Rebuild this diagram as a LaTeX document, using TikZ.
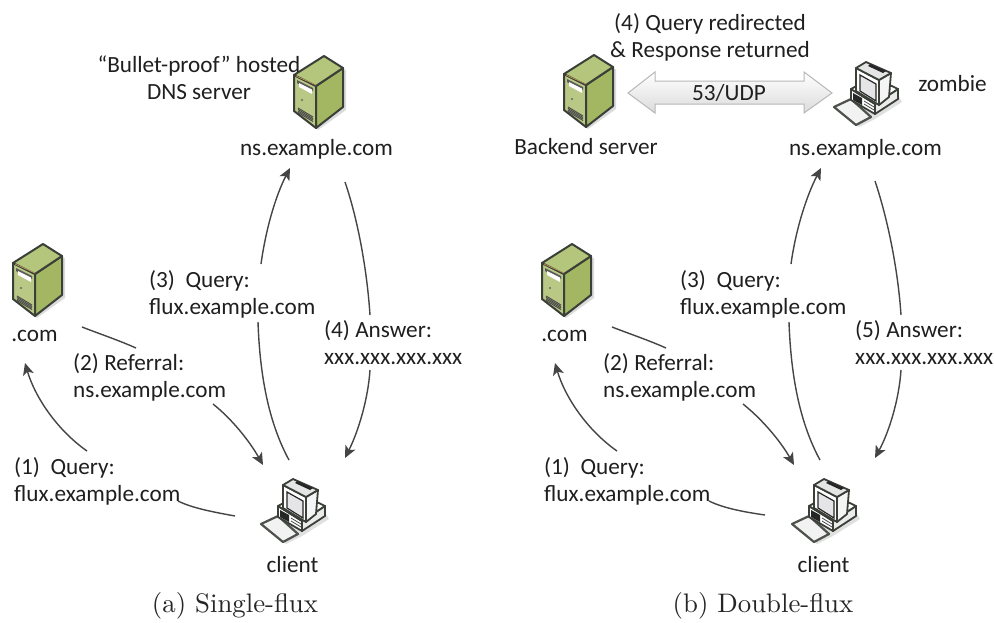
\documentclass[tikz,border=0pt]{standalone}
\usepackage{fontspec}
\usetikzlibrary{arrows.meta}
\setsansfont{Carlito}
\newfontfamily\capfont{lmroman10-regular}[Extension=.otf]
\definecolor{wire}{gray}{0.27}
\definecolor{srvfront}{HTML}{B9C884}
\definecolor{srvside}{HTML}{A3B763}
\definecolor{srvtop}{HTML}{B4C67C}
\definecolor{srvedge}{HTML}{3A3F38}
\tikzset{
  lbl/.style={font=\sffamily\fontsize{23.2}{27}\selectfont,text=black!88,inner sep=0pt,align=left,yshift=-1pt},
  lblc/.style={lbl,align=center},
  capt/.style={font=\capfont\fontsize{26.8}{30}\selectfont,text=black!85,inner sep=0pt},
  wireline/.style={draw=wire,line width=1.4pt},
  wirearrow/.style={wireline,-{Stealth[length=12pt,width=11pt,inset=3pt]}},
  serverpic/.pic={
    \fill[black!14] (3,22) -- (3,57) -- (25,74) -- (53,54) -- (53,14) -- cycle;
    \filldraw[draw=srvedge,line width=2pt,line join=round,fill=srvfront] (1,19) -- (23,30) -- (23,72) -- (1,55) -- cycle;
    \filldraw[draw=srvedge,line width=2pt,line join=round,fill=srvside] (23,30) -- (50,12) -- (50,51) -- (23,72) -- cycle;
    \filldraw[draw=srvedge,line width=2pt,line join=round,fill=srvtop] (1,19) -- (31,0) -- (50,12) -- (23,30) -- cycle;
    \draw[draw=brown!60!srvfront,line width=.7pt] (3,20) -- (23,29);
    \fill[black!65] (4,24) -- (20,32) -- (20,35) -- (4,27) -- cycle;
    \fill[white] (6,27) -- (19,33.5) -- (19,38) -- (6,31) -- cycle;
    \fill[black!60] (9,44) circle (1.2);
    \foreach \d in {0,2.5,5,7.5} {\draw[black!70,line width=1pt] (5,52+\d*.6) -- (20,61+\d*.6);}
  },
  computerpic/.pic={
    \fill[black!12] (4,48) -- (26,65) -- (42,57) -- (69,40) -- (60,24) -- cycle;
    % keyboard
    \filldraw[draw=srvedge!90,line width=2.2pt,line join=round,fill=black!5] (1,45) -- (18,37) -- (38,55) -- (23,63) -- cycle;
    % base
    \filldraw[draw=srvedge,line width=1.8pt,line join=round,fill=white] (18,27) -- (42,42) -- (42,52) -- (18,38) -- cycle;
    \filldraw[draw=srvedge,line width=1.8pt,line join=round,fill=black!8] (42,42) -- (65,27) -- (65,37) -- (42,52) -- cycle;
    \filldraw[draw=srvedge,line width=1.8pt,line join=round,fill=white] (18,27) -- (40,15) -- (65,27) -- (42,42) -- cycle;
    \fill[black!85] (20,31) -- (29,36) -- (29,43) -- (20,38) -- cycle;
    \draw[black!70,line width=.8pt] (31,39) -- (41,45) (31,42) -- (41,48);
    % monitor
    \filldraw[draw=srvedge,line width=1.8pt,line join=round,fill=white] (23,6) -- (46,18) -- (46,43) -- (23,29) -- cycle;
    \filldraw[draw=srvedge,line width=1.8pt,line join=round,fill=black!4] (46,18) -- (58,11) -- (56,35) -- (46,43) -- cycle;
    \filldraw[draw=srvedge,line width=1.8pt,line join=round,fill=black!10] (23,6) -- (33,0) -- (58,11) -- (46,18) -- cycle;
    \fill[black!85] (37,2) -- (53,9) -- (50,11) -- (35,4) -- cycle;
    \filldraw[draw=black!85,line width=1.2pt,fill=blue!6!black!10] (27,13) -- (43,22) -- (43,39) -- (27,29) -- cycle;
  }
}
\begin{document}
\begin{tikzpicture}[x=1pt,y=-1pt]
\useasboundingbox (0,0) rectangle (994,622);
\fill[white] (0,0) rectangle (994,622);
% ===== icons
\pic at (12,244) {serverpic};
\pic at (293,56) {serverpic};
\pic at (260,479) {computerpic};
\pic at (541,244) {serverpic};
\pic at (563,55) {serverpic};
\pic at (791,479) {computerpic};
\pic at (833,62) {computerpic};
% ===== labels (a)
\node[lblc] (bp) at (199,77) {“Bullet-proof” hosted\\DNS server};
\node[lbl] (nsA) at (316.5,148) {ns.example.com};
\node[lbl] (comA) at (34.5,335) {.com};
\node[lbl] (clA) at (292.5,564) {client};
\node[lbl,anchor=west] (q1A) at (14,480) {(1)\ \ Query:\\flux.example.com};
\node[lbl,anchor=west] (r2A) at (73,376) {(2) Referral:\\ns.example.com};
\node[lbl,anchor=west] (q3A) at (149,293) {(3)\ \ Query:\\flux.example.com};
\node[lbl,anchor=west] (a4A) at (324,342) {(4) Answer:\\xxx.xxx.xxx.xxx};
\node[capt] (capA) at (235,606) {(a) Single-flux};
% ===== labels (b)
\node[lblc] (q4B) at (710,36) {(4) Query redirected\\\& Response returned};
\node[lbl] (beB) at (586,146) {Backend server};
\node[lbl] (nsB) at (865.5,148) {ns.example.com};
\node[lbl] (zoB) at (952.5,83) {zombie};
\node[lbl] (comB) at (564.5,335) {.com};
\node[lbl] (clB) at (823.5,564) {client};
\node[lbl,anchor=west] (q1B) at (544,480) {(1)\ \ Query:\\flux.example.com};
\node[lbl,anchor=west] (r2B) at (603,376) {(2) Referral:\\ns.example.com};
\node[lbl,anchor=west] (q3B) at (680,293) {(3)\ \ Query:\\flux.example.com};
\node[lbl,anchor=west] (a5B) at (855,342) {(5) Answer:\\xxx.xxx.xxx.xxx};
\node[capt] (capB) at (763,606) {(b) Double-flux};
% ===== double arrow
\shade[top color=white,bottom color=black!14,draw=black!28,line width=1pt,line join=miter]
  (628,93) -- (655,72) -- (655,81) -- (804,81) -- (804,72) -- (832,93) -- (804,113) -- (804,104) -- (655,104) -- (655,113) -- cycle;
\node[lbl] (udp) at (729,92) {53/UDP};
% ===== connector end points (a)
\coordinate (a1s) at (87,451); \coordinate (a1t) at (25,363);
\coordinate (a1a) at (178,501); \coordinate (a1b) at (235,516);
\coordinate (a2a) at (82,327); \coordinate (a2b) at (136,348);
\coordinate (a2c) at (213,404); \coordinate (a2d) at (263,465);
\coordinate (a3a) at (289,460); \coordinate (a3b) at (258,322);
\coordinate (a3c) at (261,264); \coordinate (a3d) at (290,168);
\coordinate (a4a) at (345,182); \coordinate (a4b) at (370,315);
\coordinate (a4c) at (370,370); \coordinate (a4d) at (345,458);
\draw[wirearrow] (a1s) .. controls (57,430) and (35,397) .. (a1t);
\draw[wireline] (a1a) .. controls (192,508) and (213,512) .. (a1b);
\draw[wireline] (a2a) .. controls (100,334) and (118,340) .. (a2b);
\draw[wirearrow] (a2c) .. controls (233,420) and (250,442) .. (a2d);
\draw[wireline] (a3a) .. controls (270,425) and (260,380) .. (a3b);
\draw[wirearrow] (a3c) .. controls (266,228) and (276,195) .. (a3d);
\draw[wireline] (a4a) .. controls (358,220) and (367,270) .. (a4b);
\draw[wirearrow] (a4c) .. controls (368,400) and (358,432) .. (a4d);
% ===== connector end points (b)
\coordinate (b1s) at (617,451); \coordinate (b1t) at (555,363);
\coordinate (b1a) at (709,501); \coordinate (b1b) at (765,515);
\coordinate (b2a) at (612,327); \coordinate (b2b) at (666,348);
\coordinate (b2c) at (743,404); \coordinate (b2d) at (794,465);
\coordinate (b3a) at (820,460); \coordinate (b3b) at (789,322);
\coordinate (b3c) at (791,264); \coordinate (b3d) at (821,168);
\coordinate (b5a) at (875,181); \coordinate (b5b) at (901,315);
\coordinate (b5c) at (901,370); \coordinate (b5d) at (875,458);
\draw[wirearrow] (b1s) .. controls (587,430) and (565,397) .. (b1t);
\draw[wireline] (b1a) .. controls (723,508) and (744,512) .. (b1b);
\draw[wireline] (b2a) .. controls (630,334) and (648,340) .. (b2b);
\draw[wirearrow] (b2c) .. controls (763,420) and (781,442) .. (b2d);
\draw[wireline] (b3a) .. controls (801,425) and (791,380) .. (b3b);
\draw[wirearrow] (b3c) .. controls (796,228) and (807,195) .. (b3d);
\draw[wireline] (b5a) .. controls (888,220) and (898,270) .. (b5b);
\draw[wirearrow] (b5c) .. controls (899,400) and (889,432) .. (b5d);
\end{tikzpicture}
\end{document}
